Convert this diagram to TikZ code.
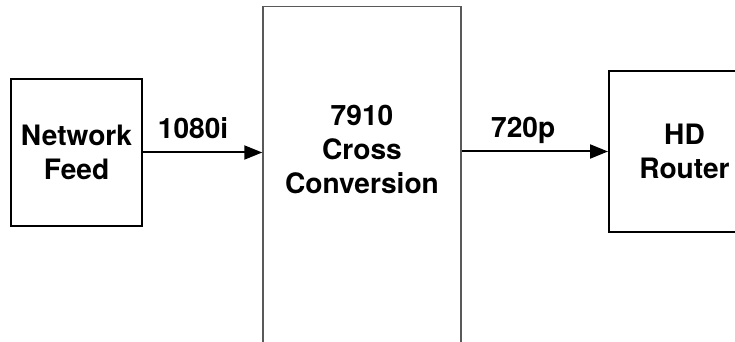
\documentclass[tikz,border=0pt]{standalone}
\usepackage{fontspec}
\setmainfont{TeX Gyre Heros}
\usetikzlibrary{arrows.meta, positioning}
\definecolor{boxgray}{rgb}{0.35, 0.35, 0.35}

\begin{document}
\begin{tikzpicture}[x=0.02cm, y=0.02cm, font=\fontsize{16}{19.5}\selectfont\bfseries,
		block/.style={draw, line width=0.04cm, align=center, inner sep=0pt},
		signal/.style={line width=0.04cm, -{Triangle[length=0.36cm, width=0.28cm]}}]
		\useasboundingbox (0,0) rectangle (735,342);
		\clip (0,0) rectangle (735,342);

		\node [block, minimum width=2.62cm, minimum height=2.94cm] (feed) at (76.5,189.5) {Network\\Feed};
		% the converter runs off the bottom of the picture
		\node [block, draw=boxgray, line width=0.03cm, minimum width=3.96cm, minimum height=7.91cm,
			label={[align=center, yshift=1.1cm]center:7910\\Cross\\Conversion}] (conv) at (362,137.75) {};
		\node [block, minimum width=3.02cm, minimum height=3.22cm] (router) at (684.5,190.5) {HD\\Router};

		\draw [signal] (feed.east) -- (feed.east -| conv.west) node [pos=0.42, anchor=base, yshift=0.28cm] {1080i};
		\draw [signal] (conv.east |- router.west) -- (router.west) node [pos=0.42, anchor=base, yshift=0.28cm] {720p};
	\end{tikzpicture}
\end{document}
